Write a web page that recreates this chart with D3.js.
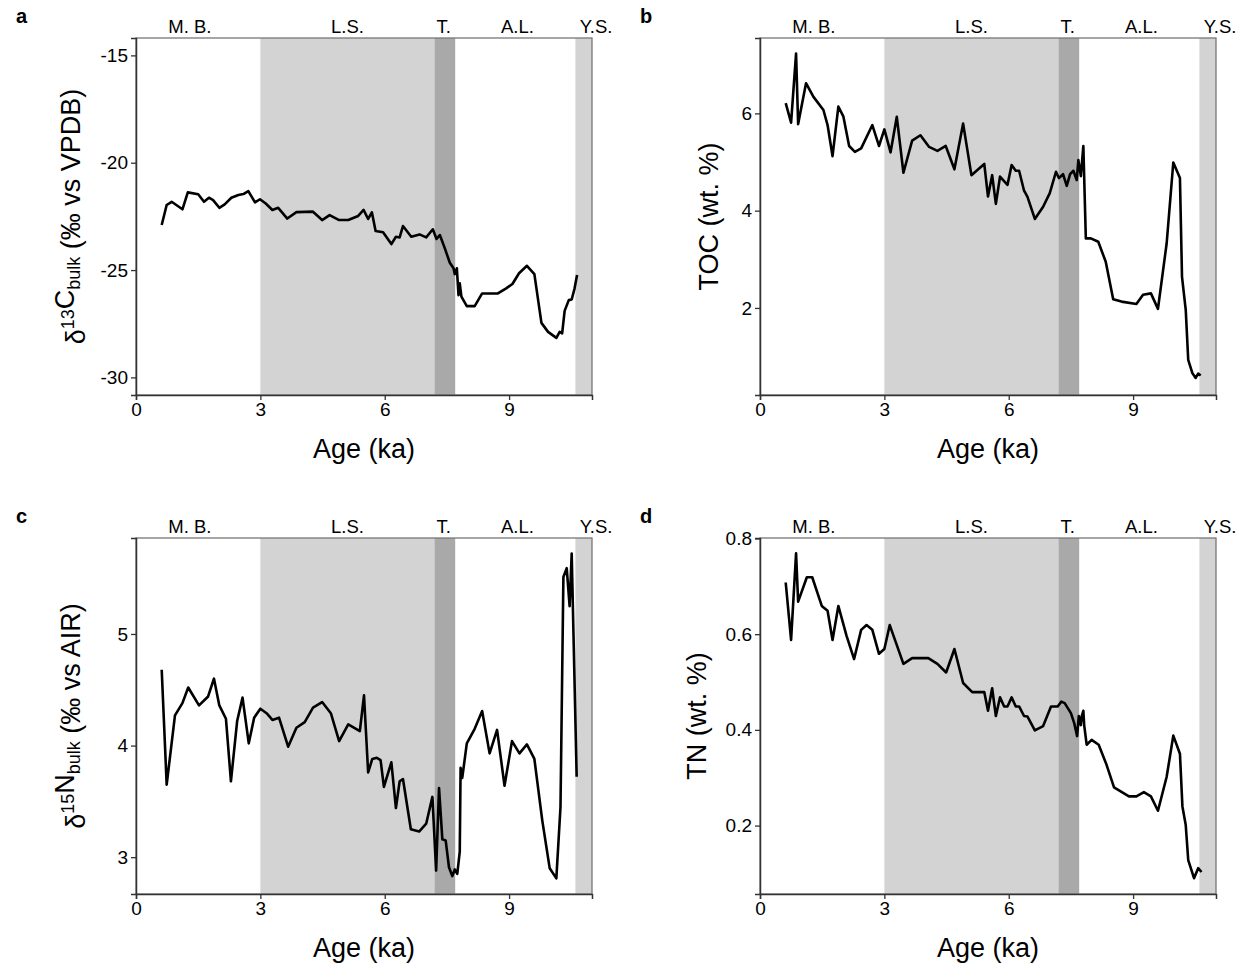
<!DOCTYPE html>
<html>
<head>
<meta charset="utf-8">
<script src="https://cdn.jsdelivr.net/npm/d3@7"></script>
<style>
  body { margin: 0; background: #fff; }
  svg { font-family: "Liberation Sans", Arial, sans-serif; }
  .tick text { font-size: 19px; fill: #000; }
</style>
</head>
<body>
<svg id="chart"></svg>
<script>
const W = 1246, H = 967;

// zones (ka)
const zoneNames = ["M. B.", "L.S.", "T.", "A.L.", "Y.S."]
const zoneLabelAt = [1.3, 5.1, 7.42, 9.2, 11.1]
const zoneStart = [0, 3, 7.2, 7.7, 10.6]
const zoneEnd = [3, 7.2, 7.7, 10.6, 11]
const zoneFill = ["none", "#d3d3d3", "#a9a9a9", "none", "#d3d3d3"]

const xTicks = [0, 3, 6, 9]

// a: d13C bulk
const ageC13 = [0.62,0.74,0.86,1.12,1.25,1.5,1.64,1.76,1.86,2.01,2.14,2.3,2.47,2.59,2.71,2.87,2.99,3.13,3.29,3.43,3.65,3.87,4.27,4.49,4.67,4.9,5.12,5.36,5.49,5.6,5.69,5.78,5.96,6.16,6.27,6.36,6.44,6.64,6.84,7.0,7.16,7.25,7.33,7.45,7.57,7.66,7.69,7.74,7.78,7.81,7.85,7.98,8.17,8.35,8.73,8.93,9.08,9.24,9.43,9.61,9.78,9.94,10.14,10.22,10.28,10.34,10.44,10.51,10.58,10.64]
const d13C = [-22.9,-21.97,-21.82,-22.17,-21.38,-21.47,-21.82,-21.63,-21.74,-22.1,-21.94,-21.63,-21.5,-21.46,-21.32,-21.85,-21.7,-21.9,-22.2,-22.1,-22.6,-22.3,-22.28,-22.67,-22.44,-22.67,-22.67,-22.48,-22.2,-22.62,-22.31,-23.18,-23.24,-23.79,-23.45,-23.48,-22.95,-23.45,-23.34,-23.48,-23.1,-23.55,-23.37,-23.99,-24.66,-24.92,-25.19,-24.92,-26.17,-25.62,-26.24,-26.68,-26.68,-26.09,-26.09,-25.85,-25.65,-25.15,-24.8,-25.19,-27.46,-27.88,-28.16,-27.88,-27.95,-26.9,-26.4,-26.37,-25.85,-25.23]

// b: TOC
const ageTOC = [0.62,0.75,0.87,0.92,1.11,1.29,1.53,1.63,1.75,1.89,2.01,2.15,2.29,2.44,2.71,2.87,3.0,3.15,3.3,3.46,3.67,3.87,4.08,4.28,4.48,4.69,4.9,5.1,5.41,5.5,5.6,5.69,5.79,5.97,6.07,6.17,6.25,6.37,6.45,6.63,6.83,6.99,7.14,7.21,7.31,7.4,7.48,7.56,7.64,7.68,7.74,7.8,7.86,7.98,8.16,8.34,8.52,8.72,9.08,9.24,9.43,9.6,9.81,9.97,10.13,10.18,10.27,10.33,10.43,10.51,10.57,10.63]
const toc = [6.21,5.81,7.23,5.78,6.62,6.34,6.07,5.76,5.12,6.14,5.94,5.33,5.21,5.28,5.76,5.33,5.67,5.2,5.93,4.78,5.44,5.55,5.31,5.23,5.33,4.85,5.79,4.73,4.96,4.29,4.73,4.14,4.7,4.53,4.94,4.82,4.82,4.41,4.29,3.83,4.08,4.36,4.8,4.67,4.75,4.51,4.75,4.82,4.63,5.04,4.71,5.33,3.43,3.43,3.36,2.95,2.18,2.13,2.08,2.27,2.3,1.98,3.33,4.99,4.67,2.64,1.96,0.93,0.66,0.56,0.65,0.61]

// c: d15N bulk
const ageN15 = [0.62,0.74,0.94,1.12,1.26,1.52,1.74,1.88,2.01,2.17,2.29,2.44,2.57,2.72,2.85,3.0,3.15,3.29,3.45,3.67,3.87,4.07,4.27,4.49,4.7,4.9,5.12,5.4,5.5,5.6,5.7,5.81,5.9,5.98,6.16,6.27,6.36,6.44,6.63,6.83,7.0,7.15,7.24,7.31,7.39,7.47,7.55,7.63,7.69,7.75,7.81,7.83,7.87,7.98,8.17,8.35,8.53,8.71,8.89,9.07,9.25,9.43,9.61,9.8,9.98,10.14,10.24,10.31,10.39,10.46,10.51,10.63]
const d15N = [4.68,3.65,4.27,4.38,4.52,4.36,4.44,4.6,4.36,4.24,3.68,4.22,4.43,4.02,4.25,4.33,4.29,4.23,4.25,3.99,4.16,4.21,4.34,4.39,4.29,4.04,4.19,4.13,4.45,3.76,3.88,3.89,3.87,3.63,3.85,3.44,3.68,3.7,3.25,3.23,3.3,3.54,2.88,3.62,3.16,3.15,2.91,2.83,2.89,2.85,3.05,3.8,3.71,4.02,4.15,4.31,3.93,4.14,3.64,4.04,3.93,4.01,3.88,3.33,2.9,2.81,3.45,5.51,5.59,5.25,5.72,3.72]

// d: TN
const ageTN = [0.62,0.75,0.87,0.92,1.13,1.26,1.49,1.63,1.75,1.89,2.09,2.27,2.44,2.57,2.71,2.87,3.0,3.13,3.46,3.67,4.06,4.28,4.49,4.69,4.9,5.12,5.41,5.5,5.6,5.69,5.79,5.89,5.97,6.07,6.17,6.25,6.37,6.45,6.63,6.83,7.02,7.18,7.27,7.35,7.5,7.58,7.65,7.69,7.74,7.76,7.8,7.82,7.88,8.0,8.17,8.36,8.54,8.9,9.08,9.26,9.43,9.6,9.81,9.97,10.13,10.19,10.27,10.33,10.47,10.57,10.65]
const tn = [0.708,0.588,0.769,0.668,0.719,0.719,0.659,0.649,0.588,0.659,0.596,0.548,0.609,0.619,0.609,0.559,0.569,0.619,0.538,0.55,0.55,0.538,0.52,0.569,0.498,0.479,0.479,0.44,0.487,0.429,0.468,0.449,0.449,0.468,0.449,0.449,0.429,0.428,0.399,0.408,0.449,0.449,0.459,0.456,0.435,0.414,0.387,0.429,0.41,0.428,0.44,0.41,0.369,0.379,0.369,0.327,0.28,0.261,0.261,0.27,0.261,0.231,0.302,0.388,0.35,0.24,0.201,0.128,0.09,0.111,0.103]

const panels = [
  { letter: "a", x0: 136, x1: 592, y0: 38, y1: 395, yDomain: [-30.82, -14.19], yTicks: [-30, -25, -20, -15],
    ages: ageC13, vals: d13C, titleX: 85, title: ["δ", {sup: "13"}, "C", {sub: "bulk"}, " (‰ vs VPDB)"] },
  { letter: "b", x0: 760, x1: 1216, y0: 38, y1: 395, yDomain: [0.21, 7.55], yTicks: [2, 4, 6],
    ages: ageTOC, vals: toc, titleX: 718, title: ["TOC (wt. %)"] },
  { letter: "c", x0: 136, x1: 592, y0: 538, y1: 894, yDomain: [2.67, 5.86], yTicks: [3, 4, 5],
    ages: ageN15, vals: d15N, titleX: 85, title: ["δ", {sup: "15"}, "N", {sub: "bulk"}, " (‰ vs AIR)"] },
  { letter: "d", x0: 760, x1: 1216, y0: 538, y1: 894, yDomain: [0.057, 0.801], yTicks: [0.2, 0.4, 0.6, 0.8],
    ages: ageTN, vals: tn, titleX: 706, title: ["TN (wt. %)"] }
]

const svg = d3.select("#chart").attr("width", W).attr("height", H)

panels.forEach(p => {
  const x = d3.scaleLinear().domain([0, 11]).range([p.x0, p.x1])
  const y = d3.scaleLinear().domain(p.yDomain).range([p.y1, p.y0])
  const g = svg.append("g")

  // zone shading
  g.selectAll("rect.zone")
    .data(zoneStart.map((s, i) => ({ s, e: zoneEnd[i], fill: zoneFill[i] })).filter(z => z.fill !== "none"))
    .enter().append("rect")
    .attr("x", z => x(z.s))
    .attr("width", z => x(z.e) - x(z.s))
    .attr("y", p.y0)
    .attr("height", p.y1 - p.y0)
    .attr("fill", z => z.fill)

  // zone labels
  g.selectAll("text.zone")
    .data(zoneNames)
    .enter().append("text")
    .attr("x", (d, i) => x(zoneLabelAt[i]))
    .attr("y", p.y0 - 5)
    .attr("text-anchor", "middle")
    .attr("font-size", 18.5)
    .text(d => d)

  // series
  const line = d3.line().x(d => x(d[0])).y(d => y(d[1]))
  g.append("path")
    .datum(p.ages.map((a, i) => [a, p.vals[i]]))
    .attr("d", line)
    .attr("fill", "none")
    .attr("stroke", "#000")
    .attr("stroke-width", 2.6)
    .attr("stroke-linejoin", "round")

  // frame (top/right lighter)
  g.append("rect")
    .attr("x", p.x0).attr("y", p.y0)
    .attr("width", p.x1 - p.x0).attr("height", p.y1 - p.y0)
    .attr("fill", "none").attr("stroke", "#777").attr("stroke-width", 1.3)

  // axes
  const xa = g.append("g")
    .attr("transform", `translate(0,${p.y1})`)
    .call(d3.axisBottom(x).tickValues(xTicks).tickSize(5).tickPadding(3).tickFormat(d => String(d)))
  const ya = g.append("g")
    .attr("transform", `translate(${p.x0},0)`)
    .call(d3.axisLeft(y).tickValues(p.yTicks).tickSize(5).tickPadding(3).tickFormat(d => String(d)))
  ;[xa, ya].forEach(a => {
    a.select(".domain").attr("stroke", "#333").attr("stroke-width", 1.5)
    a.selectAll(".tick line").attr("stroke", "#333").attr("stroke-width", 1.3)
    a.attr("font-family", null).attr("font-size", null)
  })

  // axis titles
  g.append("text")
    .attr("x", (p.x0 + p.x1) / 2)
    .attr("y", p.y1 + 63)
    .attr("text-anchor", "middle")
    .attr("font-size", 27)
    .text("Age (ka)")

  const yt = g.append("text")
    .attr("transform", `translate(${p.titleX},${(p.y0 + p.y1) / 2}) rotate(-90)`)
    .attr("text-anchor", "middle")
    .attr("font-size", 27)
  p.title.forEach(part => {
    if (typeof part === "string") {
      yt.append("tspan").attr("dy", 0).text(part)
    } else if (part.sup) {
      yt.append("tspan").attr("font-size", 18).attr("dy", -11).text(part.sup)
      yt.append("tspan").attr("dy", 11).text("")
    } else {
      yt.append("tspan").attr("font-size", 18).attr("dy", 6).text(part.sub)
      yt.append("tspan").attr("dy", -6).text("")
    }
  })

  // panel letter
  svg.append("text")
    .attr("x", p.x0 - 120)
    .attr("y", p.y0 - 15)
    .attr("font-size", 20)
    .attr("font-weight", "bold")
    .text(p.letter)
})
</script>
</body>
</html>
